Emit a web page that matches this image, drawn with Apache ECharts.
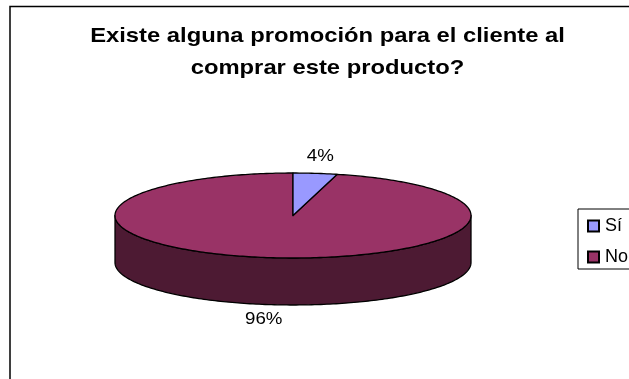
<!DOCTYPE html>
<html>
<head>
<meta charset="utf-8">
<style>html,body{margin:0;padding:0;background:#fff;overflow:hidden}#chart{width:629px;height:379px}</style>
<script src="https://cdn.jsdelivr.net/npm/echarts@6/dist/echarts.min.js"></script>
</head>
<body>
<div id="chart"></div>
<script>
// Share of answers to the promotion question
const categories = ['Sí', 'No'];
const values = [4, 96];
const topColors = ['#9999ff', '#993366'];
const sideColors = ['#4d4d80', '#4d1a33'];
const titleLines = ['Existe alguna promoción para el cliente al', 'comprar este producto?'];

const total = values.reduce((a, b) => a + b, 0);
const font = '"Liberation Sans", Arial, sans-serif';
const thickness = 47;   // height of the pie's side wall, px
const STEP = 1;         // degrees per outline segment

// Start and end angle of each slice, clockwise from twelve o'clock
function sliceRange(index) {
  let start = 0;
  for (let i = 0; i < index; i++) start += values[i] / total * 360;
  return [start, start + values[index] / total * 360];
}
function rimPoint(api, deg) {
  const r = deg * Math.PI / 180;
  return api.coord([Math.sin(r), Math.cos(r)]);
}

function renderSlice(params, api) {
  const i = params.seriesIndex;
  const [a0, a1] = sliceRange(i);
  const children = [];
  const style = { stroke: '#000', lineWidth: 1.3, lineJoin: 'round' };

  // Side wall: only the part of the rim facing the viewer
  const sideStart = Math.max(a0, 90), sideEnd = Math.min(a1, 270);
  if (sideEnd > sideStart) {
    const upper = [], lower = [];
    for (let d = sideStart; d <= sideEnd; d += STEP) {
      const p = rimPoint(api, d);
      upper.push(p);
      lower.unshift([p[0], p[1] + thickness]);
    }
    children.push({
      type: 'polygon',
      shape: { points: upper.concat(lower) },
      style: { ...style, fill: sideColors[i] }
    });
  }

  // Top face
  const pts = [api.coord([0, 0])];
  for (let d = a0; d < a1; d += STEP) pts.push(rimPoint(api, d));
  pts.push(rimPoint(api, a1));
  children.push({
    type: 'polygon',
    shape: { points: pts },
    style: { ...style, fill: topColors[i] }
  });

  // Percentage label outside the rim
  const mid = (a0 + a1) / 2;
  const anchor = rimPoint(api, mid);
  const below = Math.cos(mid * Math.PI / 180) < 0;
  children.push({
    type: 'text',
    x: anchor[0] + (below ? -7 : 5),
    y: anchor[1] + (below ? thickness + 15 : -17),
    scaleX: 1.1,
    style: {
      text: Math.round(values[i] / total * 100) + '%',
      font: '17px ' + font,
      fill: '#000',
      align: 'center',
      verticalAlign: 'middle'
    }
  });
  return { type: 'group', children };
}

const chart = echarts.init(document.getElementById('chart'), null, { renderer: 'canvas' });
chart.setOption({
  animation: false,
  backgroundColor: '#fff',
  legend: {
    data: categories,
    orient: 'vertical',
    left: 578,
    top: 209,
    padding: [8, 24, 3, 9],
    icon: 'rect',
    itemWidth: 11,
    itemHeight: 11,
    itemGap: 13,
    borderColor: '#000',
    borderWidth: 1,
    backgroundColor: '#fff',
    textStyle: { fontFamily: font, fontSize: 18, color: '#000', padding: [0, 0, 0, 1] }
  },
  grid: { left: 115, width: 356, top: 173, height: 85, containLabel: false },
  xAxis: { type: 'value', min: -1, max: 1, show: false },
  yAxis: { type: 'value', min: -1, max: 1, show: false },
  graphic: [{
    type: 'polyline',
    silent: true,
    z: -10,
    shape: { points: [[10, 400], [10, 6.5], [640, 6.5]] },
    style: { stroke: '#000', lineWidth: 1.5, fill: null }
  }, {
    // Two-line heading, slightly widened
    type: 'text',
    x: 327.5,
    y: 20,
    scaleX: 1.133,
    silent: true,
    style: {
      text: titleLines.join('\n'),
      font: 'bold 21px ' + font,
      lineHeight: 32,
      fill: '#000',
      align: 'center',
      verticalAlign: 'top'
    }
  }],
  // The "No" slice goes first so the wall stays behind the top faces
  series: categories.map((name, i) => ({
    type: 'custom',
    name,
    z: i === 0 ? 3 : 2,
    coordinateSystem: 'cartesian2d',
    renderItem: renderSlice,
    itemStyle: { color: topColors[i], borderColor: '#000', borderWidth: 1.3 },
    data: [[0, 0, values[i]]],
    clip: false,
    silent: true
  }))
});
</script>
</body>
</html>
